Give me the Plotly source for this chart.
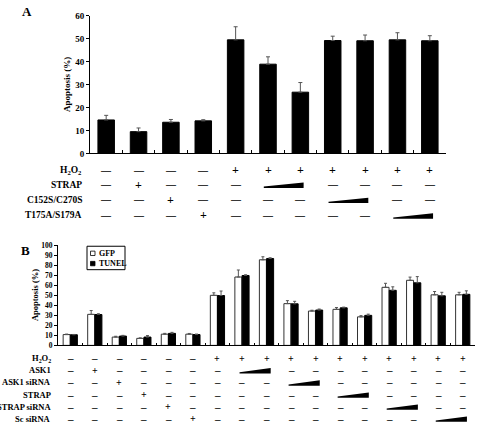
import plotly.graph_objects as go

# ---------------- Panel A data ----------------
a_vals = [14.6, 9.5, 13.6, 14.2, 49.5, 38.9, 26.7, 49.2, 49.1, 49.5, 49.1]
a_errs = [2.0, 1.6, 1.2, 0.5, 5.7, 3.2, 4.2, 1.9, 2.5, 3.1, 2.2]
a_row_labels = ["H<sub>2</sub>O<sub>2</sub>", "STRAP", "C152S/C270S", "T175A/S179A"]
a_h2o2 = ["-", "-", "-", "-", "+", "+", "+", "+", "+", "+", "+"]
a_strap = ["-", "+", "-", "-", "-", "w", "w", "-", "-", "-", "-"]
a_c152s = ["-", "-", "+", "-", "-", "-", "-", "w", "w", "-", "-"]
a_t175a = ["-", "-", "-", "+", "-", "-", "-", "-", "-", "w", "w"]
a_table = [a_h2o2, a_strap, a_c152s, a_t175a]

# ---------------- Panel B data ----------------
b_gfp = [10.8, 31.0, 8.3, 7.0, 11.2, 11.2, 50.0, 68.3, 85.5, 41.7, 34.3, 36.0, 28.5, 58.0, 65.0, 50.5, 50.5]
b_gfp_err = [0.5, 3.8, 0.8, 0.5, 0.8, 0.7, 2.5, 7.0, 3.0, 3.0, 0.8, 1.8, 1.2, 4.0, 3.2, 3.3, 2.5]
b_tunel = [10.6, 30.8, 9.3, 8.3, 12.0, 10.8, 49.8, 69.8, 86.8, 41.5, 35.3, 37.5, 30.0, 55.0, 62.5, 49.5, 51.0]
b_tunel_err = [0.3, 0.8, 0.7, 1.5, 1.0, 0.5, 4.5, 0.7, 0.7, 2.5, 1.0, 0.7, 1.2, 3.5, 6.2, 3.5, 3.5]
b_row_labels = ["H<sub>2</sub>O<sub>2</sub>", "ASK1", "ASK1 siRNA", "STRAP", "STRAP siRNA", "Sc siRNA"]
b_h2o2 = ["-", "-", "-", "-", "-", "-", "+", "+", "+", "+", "+", "+", "+", "+", "+", "+", "+"]
b_ask1 = ["-", "+", "-", "-", "-", "-", "-", "w", "w", "-", "-", "-", "-", "-", "-", "-", "-"]
b_ask1si = ["-", "-", "+", "-", "-", "-", "-", "-", "-", "w", "w", "-", "-", "-", "-", "-", "-"]
b_strap = ["-", "-", "-", "+", "-", "-", "-", "-", "-", "-", "-", "w", "w", "-", "-", "-", "-"]
b_strapsi = ["-", "-", "-", "-", "+", "-", "-", "-", "-", "-", "-", "-", "-", "w", "w", "-", "-"]
b_scsi = ["-", "-", "-", "-", "-", "+", "-", "-", "-", "-", "-", "-", "-", "-", "-", "w", "w"]
b_table = [b_h2o2, b_ask1, b_ask1si, b_strap, b_strapsi, b_scsi]
legend_names = ["GFP", "TUNEL"]

W, H = 477, 429
FONT = "Liberation Serif, Times New Roman, serif"


def px(x):
    return x / W


def py(y):
    return 1 - y / H


idx_a = list(range(len(a_vals)))
idx_b = list(range(len(b_gfp)))

fig = go.Figure()
fig.add_trace(go.Bar(
    x=idx_a, y=a_vals, width=0.51, xaxis="x", yaxis="y",
    marker=dict(color="black", line=dict(color="black", width=1)),
    error_y=dict(type="data", array=a_errs, arrayminus=[0] * len(a_errs), symmetric=False,
                 color="#555", thickness=1, width=2),
    showlegend=False))
fig.add_trace(go.Bar(
    x=idx_b, y=b_gfp, width=0.285, offset=-0.29, xaxis="x2", yaxis="y2", name=legend_names[0],
    marker=dict(color="white", line=dict(color="#333", width=1)),
    error_y=dict(type="data", array=b_gfp_err, arrayminus=[0] * len(b_gfp_err), symmetric=False,
                 color="#555", thickness=1, width=1.5),
    showlegend=False))
fig.add_trace(go.Bar(
    x=idx_b, y=b_tunel, width=0.285, offset=0.005, xaxis="x2", yaxis="y2", name=legend_names[1],
    marker=dict(color="black", line=dict(color="black", width=1)),
    error_y=dict(type="data", array=b_tunel_err, arrayminus=[0] * len(b_tunel_err), symmetric=False,
                 color="#555", thickness=1, width=1.5),
    showlegend=False))

tickfont_a = dict(family=FONT, size=9, color="black", weight="bold")
tickfont_b = dict(family=FONT, size=7.5, color="black", weight="bold")

fig.update_layout(
    width=W, height=H, margin=dict(l=0, r=0, t=0, b=0),
    paper_bgcolor="white", plot_bgcolor="white", barmode="overlay",
    xaxis=dict(domain=[px(90), px(446)], range=[-0.5, len(a_vals) - 0.5], anchor="y",
               showline=True, linecolor="black", linewidth=1, ticks="inside", ticklen=3,
               tickcolor="black", tickmode="linear", tick0=-0.5, dtick=1,
               showticklabels=False, showgrid=False, zeroline=False),
    yaxis=dict(domain=[py(152), py(11)], range=[0, 60], anchor="x",
               showline=True, linecolor="black", linewidth=1, ticks="outside", ticklen=3,
               tickcolor="black", dtick=10, tickfont=tickfont_a, showgrid=False, zeroline=False),
    xaxis2=dict(domain=[px(58), px(475)], range=[-0.5, len(b_gfp) - 0.5], anchor="y2",
                showline=True, linecolor="black", linewidth=1, ticks="inside", ticklen=2,
                tickcolor="black", tickmode="linear", tick0=-0.5, dtick=1,
                showticklabels=False, showgrid=False, zeroline=False),
    yaxis2=dict(domain=[py(348.5), py(246)], range=[0, 100], anchor="x2",
                showline=True, linecolor="black", linewidth=1, ticks="outside", ticklen=3,
                tickcolor="black", dtick=10, tickfont=tickfont_b, showgrid=False, zeroline=False),
)

annotations = []
shapes = []

# axis titles
annotations.append(dict(text="<b>Apoptosis (%)</b>", x=px(66.5), y=py(81.5), xref="paper", yref="paper",
                        textangle=-90, showarrow=False, xanchor="center", yanchor="middle",
                        font=dict(family=FONT, size=9, color="black")))
annotations.append(dict(text="<b>Apoptosis (%)</b>", x=px(35), y=py(297), xref="paper", yref="paper",
                        textangle=-90, showarrow=False, xanchor="center", yanchor="middle",
                        font=dict(family=FONT, size=8.5, color="black")))

# panel letters
annotations.append(dict(text="<b>A</b>", x=px(26.5), y=py(6.5), xref="paper", yref="paper",
                        xanchor="center", yanchor="middle",
                        showarrow=False, font=dict(family=FONT, size=13, color="black")))
annotations.append(dict(text="<b>B</b>", x=px(25), y=py(251.5), xref="paper", yref="paper",
                        xanchor="center", yanchor="middle",
                        showarrow=False, font=dict(family=FONT, size=13, color="black")))


def build_table(table, labels, xref, row_ys, label_right, lab_size, sym_size, dash, plus_size,
                wedge_h, wl, wr):
    for r, (row, lab, ry) in enumerate(zip(table, labels, row_ys)):
        annotations.append(dict(text="<b>" + lab + "</b>", x=px(label_right), y=py(ry),
                                xref="paper", yref="paper", xanchor="right", yanchor="middle",
                                showarrow=False, font=dict(family=FONT, size=lab_size, color="black")))
        i = 0
        while i < len(row):
            s = row[i]
            if s == "w":
                j = i
                while j + 1 < len(row) and row[j + 1] == "w":
                    j += 1
                x0, x1 = i - wl, j + wr
                yb = py(ry + wedge_h / 2 + 0.5)
                yt1 = py(ry - wedge_h / 2 + 0.5)
                yt0 = py(ry + wedge_h / 2 - 0.8)
                shapes.append(dict(type="path", xref=xref, yref="paper",
                                   path=f"M{x0},{yb} L{x1},{yb} L{x1},{yt1} L{x0},{yt0} Z",
                                   fillcolor="black", line=dict(width=0)))
                i = j + 1
                continue
            txt = dash if s == "-" else "+"
            size = sym_size if s == "-" else plus_size
            annotations.append(dict(text="<b>" + txt + "</b>", x=i, y=py(ry), xref=xref, yref="paper",
                                    xanchor="center", yanchor="middle", showarrow=False,
                                    font=dict(family=FONT, size=size, color="black")))
            i += 1


build_table(a_table, a_row_labels, "x", [169, 184, 199.5, 215.5], 84, 9.5, 10, "—", 12,
            5.5, 0.13, 0.1)
build_table(b_table, b_row_labels, "x2", [361.5, 374, 386.5, 399, 411.2, 423.5], 53, 8.5, 11,
            "–", 10, 5.5, 0.1, 0.17)

# legend for panel B
shapes.append(dict(type="rect", xref="paper", yref="paper", x0=px(87), x1=px(125), y0=py(271), y1=py(247),
                   line=dict(color="black", width=1), fillcolor="white"))
shapes.append(dict(type="rect", xref="paper", yref="paper", x0=px(90.5), x1=px(95), y0=py(256.5), y1=py(252),
                   line=dict(color="black", width=0.8), fillcolor="white"))
shapes.append(dict(type="rect", xref="paper", yref="paper", x0=px(90.5), x1=px(95), y0=py(267), y1=py(262.5),
                   line=dict(color="black", width=0.8), fillcolor="black"))
annotations.append(dict(text="<b>" + legend_names[0] + "</b>", x=px(97), y=py(254.3), xref="paper", yref="paper",
                        xanchor="left", yanchor="middle", showarrow=False,
                        font=dict(family=FONT, size=8, color="black")))
annotations.append(dict(text="<b>" + legend_names[1] + "</b>", x=px(97), y=py(264.8), xref="paper", yref="paper",
                        xanchor="left", yanchor="middle", showarrow=False,
                        font=dict(family=FONT, size=8, color="black")))

fig.update_layout(annotations=annotations, shapes=shapes)
fig.write_html("out.html", config={"displayModeBar": False},
               post_script="document.body.style.margin='0';document.body.style.overflow='hidden';")
